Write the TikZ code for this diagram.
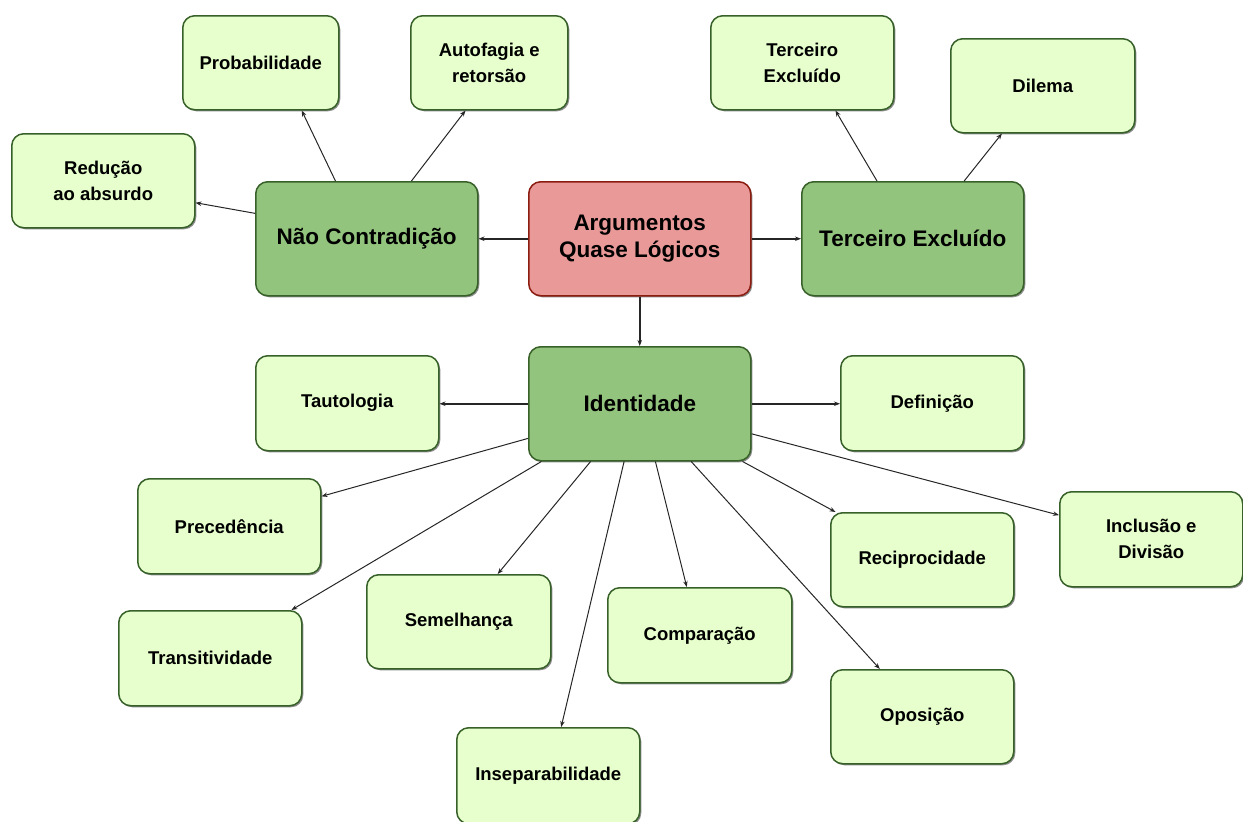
\documentclass[tikz,border=0pt]{standalone}
\usepackage{fontspec}
\setmainfont{Liberation Sans}
\usetikzlibrary{calc,shadows,arrows.meta}
\definecolor{lgfill}{HTML}{E6FFCC}
\definecolor{mgfill}{HTML}{93C47D}
\definecolor{gborder}{HTML}{38612A}
\definecolor{pkfill}{HTML}{EA9999}
\definecolor{rborder}{HTML}{8B1C10}
\tikzset{
  basebox/.style={rectangle, rounded corners=12pt, line width=1.5pt, align=center,
    anchor=north west, inner sep=2pt,
    drop shadow={shadow xshift=1.5pt, shadow yshift=-1.5pt, fill=black, opacity=0.45}},
  lightbox/.style={basebox, draw=gborder, fill=lgfill, minimum height=95pt,
    font=\bfseries\fontsize{18.5}{26}\selectfont},
  midbox/.style={basebox, draw=gborder, fill=mgfill, minimum width=222pt, minimum height=114pt,
    font=\bfseries\fontsize{22.5}{27}\selectfont},
  centerbox/.style={midbox, draw=rborder, fill=pkfill},
  conn/.style={draw=black!85, line width=1pt, -{Stealth[length=6pt,width=4.5pt]}},
  mainconn/.style={conn, line width=1.5pt}
}
\begin{document}
\begin{tikzpicture}[x=1pt,y=-1pt]
\useasboundingbox (0,0) rectangle (1243,822);
% nodes
\node[lightbox, minimum width=156pt, minimum height=94pt] (pr) at (182,15) {Probabilidade};
\node[lightbox, minimum width=157pt, minimum height=94pt] (af) at (410,15) {Autofagia e\\retorsão};
\node[lightbox, minimum width=183pt, minimum height=94pt] (ts) at (710,15) {Terceiro\\Excluído};
\node[lightbox, minimum width=184pt, minimum height=94pt] (di) at (950,38) {Dilema};
\node[lightbox, minimum width=183pt, minimum height=94pt] (ra) at (11,133) {Redução\\ao absurdo};
\node[midbox] (nc) at (255,181) {Não Contradição};
\node[centerbox] (ar) at (528,181) {Argumentos\\Quase Lógicos};
\node[midbox] (te) at (801,181) {Terceiro Excluído};
\node[midbox] (id) at (528,346) {Identidade};
\node[lightbox, minimum width=183pt] (ta) at (255,355) {Tautologia};
\node[lightbox, minimum width=183pt] (de) at (840,355) {Definição};
\node[lightbox, minimum width=183pt] (pc) at (137,478) {Precedência};
\node[lightbox, minimum width=183pt] (tr) at (118,610) {Transitividade};
\node[lightbox, minimum width=184pt, minimum height=94pt] (se) at (366,574) {Semelhança};
\node[lightbox, minimum width=184pt] (co) at (607,587) {Comparação};
\node[lightbox, minimum width=183pt, minimum height=96pt] (is) at (456,727) {Inseparabilidade};
\node[lightbox, minimum width=183pt, minimum height=94pt] (re) at (830,512) {Reciprocidade};
\node[lightbox, minimum width=183pt, minimum height=94pt] (op) at (830,669) {Oposição};
\node[lightbox, minimum width=183pt] (icd) at (1059,491) {Inclusão e\\Divisão};
% main connectors
\draw[mainconn] (ar.west) -- (ar.west -| nc.east);
\draw[mainconn] (ar.east) -- (ar.east -| te.west);
\draw[mainconn] (ar.south) -- (ar.south |- id.north);
\draw[mainconn] (id.west) -- (id.west -| ta.east);
\draw[mainconn] (id.east) -- (id.east -| de.west);
% Nao Contradicao
\draw[conn] ($(nc.north west)!0.36!(nc.north east)$) -- ($(pr.south west)!0.76!(pr.south east)$);
\draw[conn] ($(nc.north west)!0.70!(nc.north east)$) -- ($(af.south west)!0.35!(af.south east)$);
\draw[conn] ($(nc.north west)!0.28!(nc.south west)$) -- ($(ra.north east)!0.73!(ra.south east)$);
% Terceiro Excluido
\draw[conn] ($(te.north west)!0.34!(te.north east)$) -- ($(ts.south west)!0.68!(ts.south east)$);
\draw[conn] ($(te.north west)!0.73!(te.north east)$) -- ($(di.south west)!0.28!(di.south east)$);
% Identidade
\draw[conn] ($(id.north west)!0.80!(id.south west)$) -- ($(pc.north east)!0.19!(pc.south east)$);
\draw[conn] ($(id.south west)!0.06!(id.south east)$) -- ($(tr.north west)!0.94!(tr.north east)$);
\draw[conn] ($(id.south west)!0.28!(id.south east)$) -- ($(se.north west)!0.71!(se.north east)$);
\draw[conn] ($(id.south west)!0.43!(id.south east)$) -- ($(is.north west)!0.57!(is.north east)$);
\draw[conn] ($(id.south west)!0.57!(id.south east)$) -- ($(co.north west)!0.43!(co.north east)$);
\draw[conn] ($(id.south west)!0.73!(id.south east)$) -- ($(op.north west)!0.27!(op.north east)$);
\draw[conn] ($(id.south west)!0.96!(id.south east)$) -- ($(re.north west)!0.03!(re.north east)$);
\draw[conn] ($(id.north east)!0.76!(id.south east)$) -- ($(icd.north west)!0.25!(icd.south west)$);
\end{tikzpicture}
\end{document}
